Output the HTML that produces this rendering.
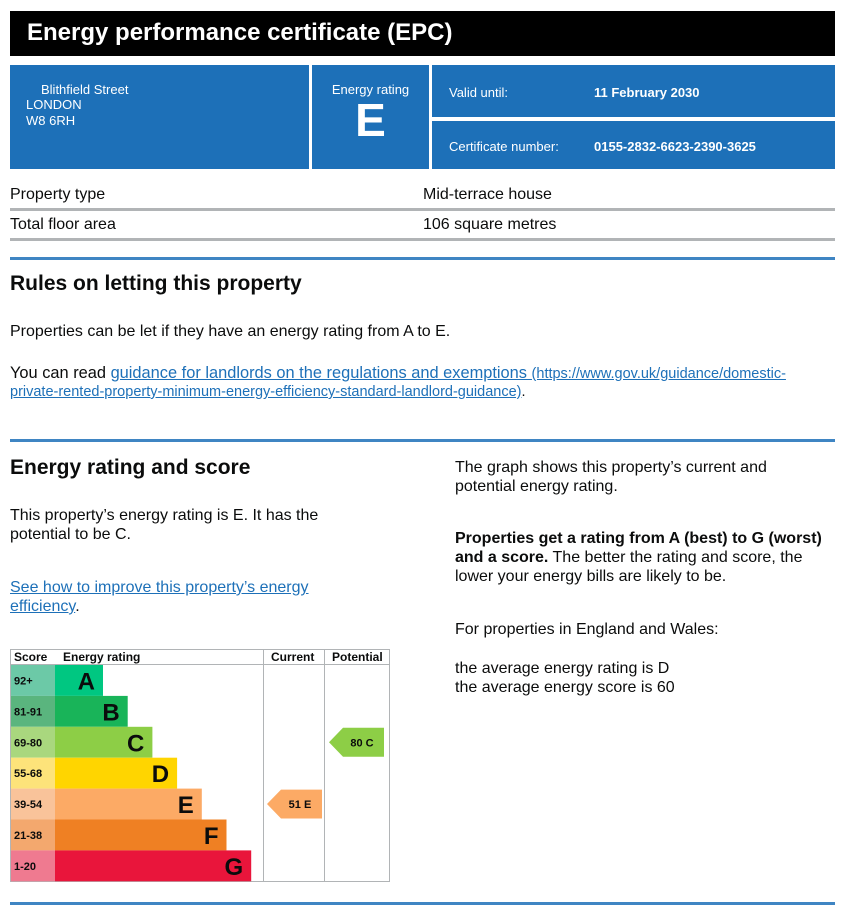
<!DOCTYPE html>
<html><head><meta charset="utf-8"><style>
body{margin:0;width:845px;height:916px;background:#fff;font-family:"Liberation Sans",Arial,sans-serif;color:#0b0c0c;position:relative;overflow:hidden}
.a{position:absolute;white-space:nowrap}
.blue{position:absolute;background:#1d70b8;color:#fff}
.t{font-size:16px;line-height:19px}
a{color:#1d70b8;text-decoration:underline}
.hr{position:absolute;left:10px;width:825px;height:3px;background:#1d70b8;opacity:.85}
.g{position:absolute;left:10px;width:825px;height:3px;background:#b1b4b6}
</style></head><body>
<div class="a" style="left:10px;top:11px;width:825px;height:45px;background:#000"></div>
<div class="a" style="left:27px;top:19px;color:#fff;font-weight:bold;font-size:24px">Energy performance certificate (EPC)</div>
<div class="blue" style="left:10px;top:65px;width:299px;height:104px;font-size:13px;line-height:16px">
<div style="position:absolute;left:31px;top:17px">Blithfield Street</div>
<div style="position:absolute;left:16px;top:32px">LONDON<br>W8 6RH</div></div>
<div class="blue" style="left:312px;top:65px;width:117px;height:104px;text-align:center">
<div style="font-size:13px;margin-top:17px">Energy rating</div>
<div style="font-size:46px;font-weight:bold;line-height:46px">E</div></div>
<div class="blue" style="left:432px;top:65px;width:403px;height:52px;font-size:13px">
<div style="position:absolute;left:17px;top:20px">Valid until:</div>
<div style="position:absolute;left:162px;top:20px;font-weight:bold">11 February 2030</div></div>
<div class="blue" style="left:432px;top:121px;width:403px;height:48px;font-size:13px">
<div style="position:absolute;left:17px;top:18px">Certificate number:</div>
<div style="position:absolute;left:162px;top:18px;font-weight:bold">0155-2832-6623-2390-3625</div></div>
<div class="a t" style="left:10px;top:185px">Property type</div>
<div class="a t" style="left:423px;top:185px">Mid-terrace house</div>
<div class="g" style="top:208px"></div>
<div class="a t" style="left:10px;top:215px">Total floor area</div>
<div class="a t" style="left:423px;top:215px">106 square metres</div>
<div class="g" style="top:238px"></div>
<div class="hr" style="top:257px"></div>
<div class="a" style="left:10px;top:272px;font-size:21px;font-weight:bold">Rules on letting this property</div>
<div class="a t" style="left:10px;top:322px">Properties can be let if they have an energy rating from A to E.</div>
<div class="a" style="left:10px;top:364px;font-size:16.4px;line-height:19px">You can read <a href="#">guidance for landlords on the regulations and exemptions <span style="font-size:14.5px">(https://www.gov.uk/guidance/domestic-</span></a></div>
<div class="a" style="left:10px;top:384px;font-size:14.5px"><a href="#">private-rented-property-minimum-energy-efficiency-standard-landlord-guidance)</a>.</div>
<div class="hr" style="top:439px"></div>
<div class="a" style="left:10px;top:456px;font-size:21px;font-weight:bold">Energy rating and score</div>
<div class="a t" style="left:10px;top:506px">This property’s energy rating is E. It has the<br>potential to be C.</div>
<div class="a t" style="left:10px;top:578px"><a href="#">See how to improve this property’s energy<br>efficiency</a>.</div>
<div class="a t" style="left:455px;top:458px">The graph shows this property’s current and<br>potential energy rating.</div>
<div class="a t" style="left:455px;top:529px"><b>Properties get a rating from A (best) to G (worst)<br>and a score.</b> The better the rating and score, the<br>lower your energy bills are likely to be.</div>
<div class="a t" style="left:455px;top:620px">For properties in England and Wales:</div>
<div class="a t" style="left:455px;top:659px">the average energy rating is D<br>the average energy score is 60</div>
<div class="hr" style="top:902px"></div>

<svg id="chart" style="position:absolute;left:0;top:0" width="845" height="916" font-family="Liberation Sans, Arial, sans-serif"></svg>
<script>
const bands=["A","B","C","D","E","F","G"];
const ranges=["92+","81-91","69-80","55-68","39-54","21-38","1-20"];
const minScores=[92,81,69,55,39,21,1];
const colors=["#00c781","#19b459","#8dce46","#ffd500","#fcaa65","#ef8023","#e9153b"];
const light=["#6cc9a7","#5ab57e","#a9d77e","#fde37a","#f9c39a","#f3a86e","#ef7a90"];
const currentScore=[51];
const potentialScore=[80];
const svg=document.getElementById('chart');const NS="http://www.w3.org/2000/svg";
function el(t,a,p){const e=document.createElementNS(NS,t);for(const k in a)e.setAttribute(k,a[k]);(p||svg).appendChild(e);return e;}
const X0=10,Y0=649,HH=15,RH=30.9,SC=55,W=379,CUR=263,POT=324;
function rowY(i){return Y0+HH+1+i*RH;}
function barW(i){return 48+i*24.7;}
function bandOf(s){for(let i=0;i<minScores.length;i++)if(s>=minScores[i])return i;return 6;}
let e=el('rect',{x:X0+.5,y:Y0+.5,width:W,height:232,fill:'#fff',stroke:'#b1b4b6'});

el('line',{x1:X0,y1:Y0+HH+.5,x2:X0+W,y2:Y0+HH+.5,stroke:'#b1b4b6'});
el('line',{x1:CUR+.5,y1:Y0,x2:CUR+.5,y2:Y0+232,stroke:'#b1b4b6'});
el('line',{x1:POT+.5,y1:Y0,x2:POT+.5,y2:Y0+232,stroke:'#b1b4b6'});
[["Score",14],["Energy rating",63],["Current",271],["Potential",332]].forEach(h=>{
 const t=el('text',{x:h[1],y:Y0+12,'font-size':12,'font-weight':'bold',fill:'#0b0c0c'});t.textContent=h[0];
 });
bands.forEach((b,i)=>{
 const y=rowY(i);
 let r=el('rect',{x:X0+1,y:y,width:SC-X0-1,height:RH,fill:light[i]});
 
 let t=el('text',{x:14,y:y+RH/2+4,'font-size':11,'font-weight':'bold',fill:'#0b0c0c'});t.textContent=ranges[i];
 
 r=el('rect',{x:SC,y:y,width:barW(i),height:RH,fill:colors[i]});
 
 t=el('text',{x:SC+barW(i)-8,y:y+RH/2+9,'font-size':24,'font-weight':'bold','text-anchor':'end',fill:'#0b0c0c'});t.textContent=b;
 
});
function arrow(score,x0,name){
 const i=bandOf(score),y=rowY(i)+1,h=RH-2,w=55;
 const p=el('polygon',{points:`${x0},${y+h/2} ${x0+14},${y} ${x0+w},${y} ${x0+w},${y+h} ${x0+14},${y+h}`,fill:colors[i]});
 
 const t=el('text',{x:x0+33,y:y+h/2+4,'font-size':11,'font-weight':'bold','text-anchor':'middle',fill:'#0b0c0c','xml:space':'preserve'});
 t.textContent=score+'  '+bands[i];
 
}
arrow(currentScore[0],267,'current');
arrow(potentialScore[0],329,'potential');
</script>
</body></html>
